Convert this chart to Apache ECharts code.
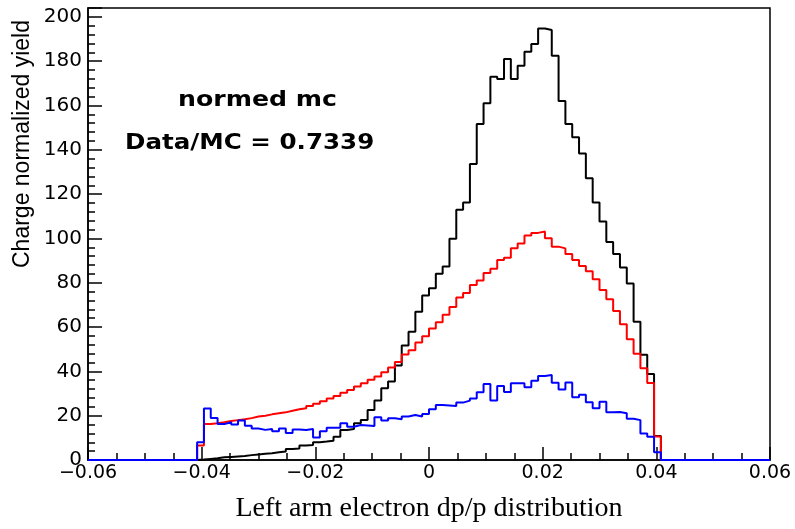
<!DOCTYPE html>
<html>
<head>
<meta charset="utf-8">
<script src="https://cdn.jsdelivr.net/npm/echarts@6/dist/echarts.min.js"></script>
<style>
  html, body { margin: 0; padding: 0; background: #fff; }
  #chart { width: 795px; height: 529px; }
</style>
</head>
<body>
<div id="chart"></div>
<script>
// Histogram binning: 100 bins from -0.06 to 0.06
const xMin = -0.06;
const xMax = 0.06;
const nBins = 100;
const firstFilledBin = 16;   // bins 16..83 carry entries

// Data (black)
const dataCounts = [
  0.2, 0.5, 0.8, 1.2, 1.4, 1.6, 1.8, 2.2, 2.5, 2.8, 3.0, 3.5, 3.8, 5.0, 5.2, 6.5, 6.8, 8.0, 8.3,
  8.7, 10.5, 13.5, 14.0, 16.6, 18.1, 22.6, 26.8, 32.4, 35.4, 42.6, 51.7, 57.9, 66.9, 74.2, 77.5,
  84.1, 87.3, 99.8, 112.9, 116.2, 133.6, 151.7, 161.0, 173.0, 171.9, 181.0, 171.9, 177.9, 184.3,
  187.8, 194.7, 194.1, 182.4, 162.0, 151.7, 145.7, 138.3, 127.2, 116.2, 107.6, 98.4, 93.0, 86.9,
  79.7, 62.4, 47.5, 38.8, 10.8
];

// Normalized MC (red)
const mcCounts = [
  6.5, 16.3, 16.6, 17.0, 17.6, 18.0, 18.4, 18.9, 19.6, 20.0, 20.6, 21.1, 21.5, 22.2, 22.9, 23.4,
  24.4, 25.4, 26.5, 27.8, 28.9, 30.4, 31.6, 33.2, 34.6, 36.2, 37.7, 39.6, 41.8, 44.2, 47.6, 49.5,
  53.0, 55.8, 59.3, 62.2, 65.5, 69.0, 73.3, 75.4, 79.0, 81.0, 84.4, 86.3, 90.3, 91.3, 95.6, 97.7,
  101.3, 102.5, 103.1, 100.1, 96.3, 95.5, 93.0, 90.3, 87.6, 85.2, 81.6, 76.7, 72.6, 67.3, 61.3,
  54.5, 47.9, 41.4, 34.8, 10.6
];

// Blue component
const bgCounts = [
  8.0, 23.2, 19.0, 16.2, 17.0, 16.0, 17.8, 15.5, 14.2, 13.6, 14.0, 13.0, 14.2, 12.2, 13.8, 13.5,
  14.0, 10.2, 13.0, 14.5, 14.5, 16.6, 15.0, 15.8, 15.6, 15.4, 19.3, 17.8, 18.8, 18.4, 19.6, 20.3,
  19.6, 20.8, 22.9, 24.8, 24.6, 24.4, 25.9, 26.8, 27.8, 30.6, 34.3, 26.8, 33.4, 30.7, 34.6, 34.6,
  32.8, 35.8, 37.9, 38.4, 34.9, 31.8, 35.0, 28.3, 29.5, 26.1, 23.3, 26.3, 21.5, 21.7, 21.1, 18.6,
  18.0, 12.0, 10.5, 3.5
];

const xTicks = { min: -0.06, max: 0.06, step: 0.02 };
const yTicks = { min: 0, max: 204, step: 20 };

const labelTexts = ['normed mc', 'Data/MC = 0.7339'];
const xTitle = 'Left arm electron dp/p distribution';
const yTitle = 'Charge normalized yield';

// Turn a run of filled bins into step-line vertices at the bin edges
function histPoints(counts) {
  const w = (xMax - xMin) / nBins;
  const full = new Array(nBins).fill(0);
  counts.forEach((c, k) => { full[firstFilledBin + k] = c; });
  const pts = [];
  for (let i = 0; i < nBins; i++) pts.push([xMin + i * w, full[i]]);
  pts.push([xMax, full[nBins - 1]]);
  return pts;
}

function fmtX(v) {
  if (Math.abs(v) < 1e-9) return '0';
  const s = Math.abs(v).toFixed(2);
  return (v < 0 ? '\u2212' : '') + s;
}

const chart = echarts.init(document.getElementById('chart'), null, { renderer: 'canvas' });

const histSeries = (name, counts, color) => ({
  name: name,
  type: 'line',
  step: 'end',
  data: histPoints(counts),
  showSymbol: false,
  symbol: 'none',
  lineStyle: { color: color, width: 2 },
  silent: true
});

chart.setOption({
  animation: false,
  backgroundColor: '#ffffff',
  grid: {
    left: 88, right: 25, top: 8, bottom: 69,
    show: true, borderColor: '#000', borderWidth: 1.5, backgroundColor: 'transparent'
  },
  xAxis: {
    type: 'value',
    min: xTicks.min, max: xTicks.max, interval: xTicks.step,
    axisLine: { show: true, onZero: false, lineStyle: { color: '#000', width: 1.5 } },
    axisTick: { show: true, inside: true, length: 13, lineStyle: { color: '#000', width: 1.5 } },
    minorTick: { show: true, splitNumber: 4, length: 7, lineStyle: { color: '#000', width: 1.5 } },
    splitLine: { show: false },
    axisLabel: {
      formatter: fmtX, color: '#000', fontFamily: 'DejaVu Sans', fontSize: 19, margin: 4
    },
    name: xTitle,
    nameLocation: 'middle',
    nameGap: 35,
    nameTextStyle: { fontFamily: 'Liberation Serif', fontSize: 28, color: '#000' }
  },
  yAxis: {
    type: 'value',
    min: yTicks.min, max: yTicks.max, interval: yTicks.step,
    axisLine: { show: true, onZero: false, lineStyle: { color: '#000', width: 1.5 } },
    axisTick: { show: true, inside: true, length: 14, lineStyle: { color: '#000', width: 1.5 } },
    minorTick: { show: true, splitNumber: 5, length: 7, lineStyle: { color: '#000', width: 1.5 } },
    splitLine: { show: false },
    axisLabel: {
      color: '#000', fontFamily: 'DejaVu Sans', fontSize: 20, margin: 6,
      formatter: v => (v % 20 === 0 ? String(v) : '')
    }
  },
  graphic: [
    {
      type: 'text', x: 23, y: 268, rotation: Math.PI / 2,
      style: {
        text: yTitle, fontFamily: 'Liberation Sans', fontSize: 23, fill: '#000',
        textAlign: 'left', textVerticalAlign: 'middle'
      }
    },
    {
      type: 'text', x: 178, y: 90, scaleX: 1.2,
      style: { text: labelTexts[0], fontFamily: 'DejaVu Sans', fontWeight: 'bold', fontSize: 21, fill: '#000' }
    },
    {
      type: 'text', x: 125, y: 133, scaleX: 1.17,
      style: { text: labelTexts[1], fontFamily: 'DejaVu Sans', fontWeight: 'bold', fontSize: 21, fill: '#000' }
    }
  ],
  series: [
    histSeries('data', dataCounts, '#000000'),
    histSeries('mc', mcCounts, '#ff0000'),
    histSeries('bg', bgCounts, '#0000ff')
  ]
});
</script>
</body>
</html>
